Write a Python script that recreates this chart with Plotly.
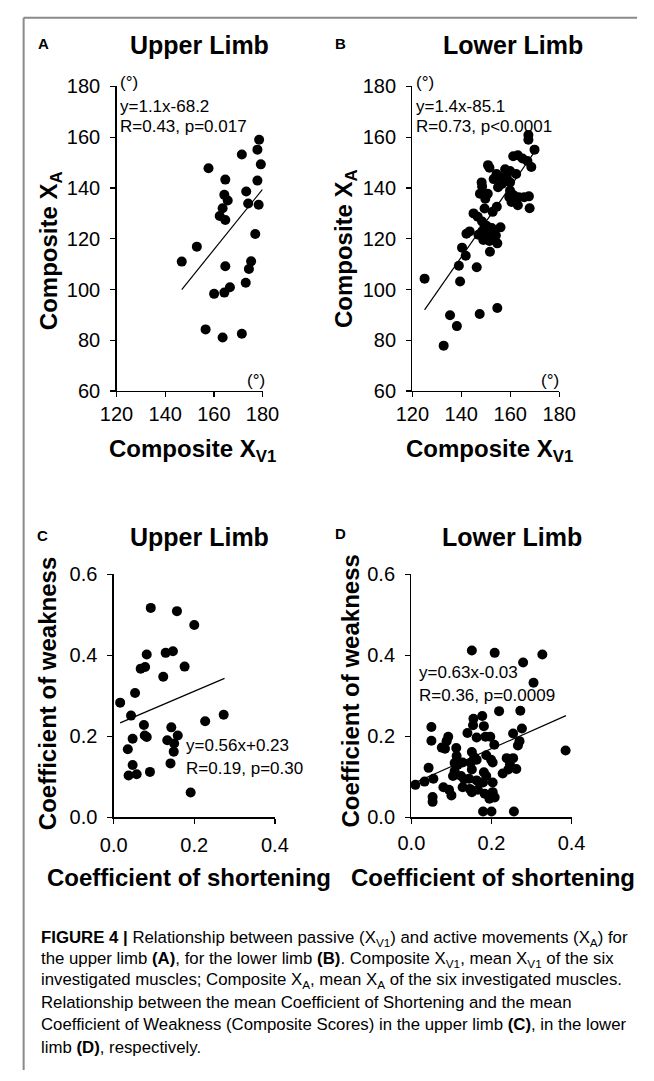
import plotly.graph_objects as go

W, H = 654, 1081

# ---------------- data ----------------
A_x = [157.8, 164.7, 171.5, 178.6, 177.9, 179.3, 177.9, 164.3, 165.7, 173.3, 174.1, 178.4, 163.6, 162.4,
       164.7, 153.0, 146.8, 177.0, 164.7, 175.3, 174.4, 173.1, 160.1, 164.3, 166.6, 156.6, 163.6, 171.5]
A_y = [147.8, 143.3, 153.2, 159.0, 155.1, 149.3, 142.9, 137.3, 135.1, 138.6, 133.9, 133.4, 132.0, 129.0,
       127.4, 116.9, 111.0, 121.9, 109.2, 111.1, 108.1, 102.7, 98.3, 98.8, 100.9, 84.3, 81.1, 82.6]
A_fit_x = [146.8, 180.0]
A_fit_y = [100.0, 139.5]

B_x = [125.0, 135.4, 138.2, 132.8, 147.5, 154.7, 139.5, 139.0, 146.3, 151.7, 140.3, 141.8, 142.1, 143.4,
       145.0, 146.7, 148.5, 150.3, 148.5, 150.3, 152.4, 153.4, 156.0, 154.1, 154.7, 149.0, 151.5, 149.5,
       152.8, 154.5, 147.6, 148.5, 148.3, 149.8, 150.8, 151.5, 150.9, 153.2, 154.4, 156.0, 155.0, 156.6,
       157.9, 159.9, 158.6, 159.9, 159.9, 159.6, 160.5, 163.1, 161.4, 163.5, 165.7, 167.6, 167.9, 161.2,
       163.1, 165.0, 167.0, 168.6, 169.9, 167.4, 167.4, 162.4, 149.5, 147.0]
B_y = [104.3, 89.9, 85.6, 77.9, 90.4, 92.7, 103.2, 109.4, 108.8, 114.9, 116.5, 113.3, 122.0, 122.9,
       130.0, 128.7, 126.8, 125.1, 122.9, 122.0, 124.2, 122.3, 124.5, 121.3, 118.2, 119.5, 119.1, 131.9,
       130.6, 132.6, 137.7, 140.6, 142.2, 135.8, 137.7, 148.0, 149.0, 143.5, 145.5, 144.2, 140.3, 141.6,
       147.4, 146.7, 143.9, 142.2, 139.0, 136.4, 134.5, 133.2, 137.1, 136.4, 136.4, 136.7, 132.0, 152.5,
       152.9, 151.6, 150.6, 148.3, 155.1, 160.9, 159.0, 145.5, 124.9, 121.6]
B_fit_x = [125.0, 169.6]
B_fit_y = [92.0, 153.8]

C_x = [0.092, 0.157, 0.200, 0.082, 0.129, 0.147, 0.067, 0.078, 0.176, 0.123, 0.053, 0.016, 0.043, 0.075,
       0.227, 0.273, 0.143, 0.047, 0.077, 0.082, 0.133, 0.150, 0.159, 0.035, 0.149, 0.047, 0.141, 0.037,
       0.057, 0.090, 0.191]
C_y = [0.517, 0.509, 0.475, 0.402, 0.406, 0.410, 0.367, 0.371, 0.372, 0.347, 0.307, 0.283, 0.251, 0.228,
       0.237, 0.253, 0.222, 0.194, 0.202, 0.198, 0.190, 0.182, 0.202, 0.168, 0.162, 0.129, 0.133, 0.103,
       0.106, 0.112, 0.061]
C_fit_x = [0.016, 0.275]
C_fit_y = [0.233, 0.343]

D_x = [0.151, 0.208, 0.327, 0.279, 0.305, 0.219, 0.272, 0.385,
       0.155, 0.177, 0.154, 0.181, 0.140, 0.163, 0.185, 0.197, 0.207, 0.276, 0.254, 0.270, 0.266,
       0.050, 0.050, 0.092, 0.088, 0.076, 0.084, 0.112, 0.113, 0.108, 0.116, 0.128, 0.151, 0.157, 0.163,
       0.187, 0.199, 0.203, 0.238, 0.254, 0.246, 0.262, 0.242, 0.228, 0.181, 0.187,
       0.043, 0.055, 0.033, 0.010, 0.108, 0.104, 0.124, 0.132, 0.144, 0.163, 0.080, 0.094, 0.100, 0.128,
       0.146, 0.151, 0.166, 0.183, 0.203, 0.208, 0.195, 0.053, 0.053, 0.110, 0.179, 0.200, 0.256, 0.151,
       0.148, 0.203, 0.179]
D_y = [0.412, 0.406, 0.402, 0.382, 0.332, 0.262, 0.263, 0.165,
       0.243, 0.250, 0.227, 0.225, 0.208, 0.197, 0.199, 0.199, 0.179, 0.219, 0.207, 0.188, 0.177,
       0.223, 0.189, 0.199, 0.188, 0.172, 0.169, 0.171, 0.151, 0.134, 0.130, 0.135, 0.161, 0.148, 0.142,
       0.153, 0.142, 0.135, 0.146, 0.146, 0.130, 0.119, 0.118, 0.108, 0.111, 0.102,
       0.122, 0.095, 0.088, 0.080, 0.114, 0.102, 0.102, 0.094, 0.095, 0.091, 0.074, 0.068, 0.054, 0.074,
       0.070, 0.062, 0.068, 0.058, 0.062, 0.049, 0.046, 0.050, 0.038, -0.003, 0.014, 0.014, 0.014, 0.118,
       0.134, 0.086, 0.086]
D_fit_x = [0.010, 0.386]
D_fit_y = [0.086, 0.251]

AB_xticks = [120, 140, 160, 180]
AB_yticks = [60, 80, 100, 120, 140, 160, 180]
CD_xticks = [0.0, 0.2, 0.4]
CD_yticks = [0.0, 0.2, 0.4, 0.6]

# ---------------- helpers ----------------
FONT = "Liberation Sans, Arial, Helvetica, sans-serif"


def px(x):
    return x / W


def py(y):
    return 1 - y / H


fig = go.Figure()

panels = [
    ("x", "y", A_x, A_y, A_fit_x, A_fit_y),
    ("x2", "y2", B_x, B_y, B_fit_x, B_fit_y),
    ("x3", "y3", C_x, C_y, C_fit_x, C_fit_y),
    ("x4", "y4", D_x, D_y, D_fit_x, D_fit_y),
]
for xa, ya, xs, ys, fx, fy in panels:
    fig.add_trace(go.Scatter(x=fx, y=fy, mode="lines", xaxis=xa, yaxis=ya,
                             line=dict(color="black", width=1.2), showlegend=False,
                             hoverinfo="skip"))
    fig.add_trace(go.Scatter(x=xs, y=ys, mode="markers", xaxis=xa, yaxis=ya,
                             marker=dict(color="black", size=10, line=dict(width=0)),
                             cliponaxis=False, showlegend=False, hoverinfo="skip"))

axis_common = dict(showline=True, linecolor="black", linewidth=1.3, ticks="outside",
                   ticklen=5, tickwidth=1.3, tickcolor="black", showgrid=False,
                   zeroline=False, tickfont=dict(family=FONT, size=20, color="black"),
                   fixedrange=True, showspikes=False)

domAx = [px(105), px(259)]
domBx = [px(417), px(572)]
domABy = [py(388), py(77)]
domCx = [px(102), px(272)]
domDx = [px(416), px(585)]
domCDy = [py(823), py(575)]

fig.update_layout(
    width=W, height=H, margin=dict(l=0, r=0, t=0, b=0),
    paper_bgcolor="white", plot_bgcolor="white", showlegend=False, hovermode=False,
    xaxis=dict(domain=domAx, range=[120, 180], tickvals=AB_xticks, anchor="y", **axis_common),
    yaxis=dict(domain=domABy, range=[60, 180], tickvals=AB_yticks, anchor="x", ticklabelstandoff=6, **axis_common),
    xaxis2=dict(domain=domBx, range=[120, 180], tickvals=AB_xticks, anchor="y2", **axis_common),
    yaxis2=dict(domain=domABy, range=[60, 180], tickvals=AB_yticks, anchor="x2", ticklabelstandoff=6, **axis_common),
    xaxis3=dict(domain=domCx, range=[0, 0.4], tickvals=CD_xticks, tickformat=".1f", anchor="y3", ticklabelstandoff=4, **axis_common),
    yaxis3=dict(domain=domCDy, range=[0, 0.6], tickvals=CD_yticks, tickformat=".1f", anchor="x3", ticklabelstandoff=6, **axis_common),
    xaxis4=dict(domain=domDx, range=[0, 0.4], tickvals=CD_xticks, tickformat=".1f", anchor="y4", ticklabelstandoff=2, **axis_common),
    yaxis4=dict(domain=domCDy, range=[0, 0.6], tickvals=CD_yticks, tickformat=".1f", anchor="x4", ticklabelstandoff=6, **axis_common),
)

anns = []


def ann(text, x, y, size, bold=False, xanchor="center", yanchor="middle", angle=0, family=FONT):
    anns.append(dict(text=text, x=px(x), y=py(y), xref="paper", yref="paper",
                     xanchor=xanchor, yanchor=yanchor, showarrow=False, textangle=angle,
                     font=dict(family=family, size=size, color="black",
                               weight="bold" if bold else "normal"),
                     align="left"))


# panel letters
ann("A", 28, 33, 15, bold=True)
ann("B", 341, 33, 15, bold=True)
ann("C", 27, 535, 15, bold=True)
ann("D", 341, 533, 15, bold=True)
# titles
ann("Upper Limb", 193, 35, 25, bold=True)
ann("Lower Limb", 523, 35, 25, bold=True)
ann("Upper Limb", 192, 537, 25, bold=True)
ann("Lower Limb", 522, 537, 25, bold=True)
# axis titles
ann("Composite X<sub>A</sub>", 35, 245, 24, bold=True, angle=-90)
ann("Composite X<sub>A</sub>", 346, 243, 24, bold=True, angle=-90)
ann("Composite X<sub>V1</sub>", 185, 449, 24, bold=True)
ann("Composite X<sub>V1</sub>", 498, 449, 24, bold=True)
ann("Coefficient of weakness", 32, 697, 24, bold=True, angle=-90)
ann("Coefficient of weakness", 352, 694, 24, bold=True, angle=-90)
ann("Coefficient of shortening", 181, 884, 24, bold=True)
ann("Coefficient of shortening", 502, 884, 24, bold=True)
# stats
ann("(°)", 107, 73, 17, xanchor="left")
ann("y=1.1x-68.2", 107, 97, 17, xanchor="left")
ann("R=0.43, p=0.017", 107, 118, 17, xanchor="left")
ann("(°)", 264, 377, 17, xanchor="right")
ann("(°)", 419, 73, 17, xanchor="left")
ann("y=1.4x-85.1", 419, 97, 17, xanchor="left")
ann("R=0.73, p<0.0001", 419, 118, 17, xanchor="left")
ann("(°)", 574, 377, 17, xanchor="right")
ann("y=0.56x+0.23", 176, 750, 17, xanchor="left")
ann("R=0.19, p=0.30", 176, 773, 17, xanchor="left")
ann("y=0.63x-0.03", 422, 675, 17, xanchor="left")
ann("R=0.36, p=0.0009", 422, 699, 17, xanchor="left")

# caption
CAP_FONT = "Liberation Sans, Arial, sans-serif"
CAP_SIZE = 16.8


def B(t):
    return '<span style="font-weight:bold;font-size:16.8px">' + t + '</span>'


cap_lines = [
    B("FIGURE 4 |") + " Relationship between passive (X<sub>V1</sub>) and active movements (X<sub>A</sub>) for",
    "the upper limb " + B("(A)") + ", for the lower limb " + B("(B)") + ". Composite X<sub>V1</sub>, mean X<sub>V1</sub> of the six",
    "investigated muscles; Composite X<sub>A</sub>, mean X<sub>A</sub> of the six investigated muscles.",
    "Relationship between the mean Coefficient of Shortening and the mean",
    "Coefficient of Weakness (Composite Scores) in the upper limb " + B("(C)") + ", in the lower",
    "limb " + B("(D)") + ", respectively.",
]
cap_y = [947, 968, 990, 1012, 1035, 1058]
for t, yy in zip(cap_lines, cap_y):
    ann(t, 23, yy, CAP_SIZE, xanchor="left", family=CAP_FONT)

fig.update_layout(annotations=anns)

# frame lines (top & left)
fig.update_layout(shapes=[
    dict(type="line", xref="paper", yref="paper", x0=px(7), x1=px(654), y0=py(7), y1=py(7),
         line=dict(color="#8a8a8a", width=2)),
    dict(type="line", xref="paper", yref="paper", x0=px(7), x1=px(7), y0=py(7), y1=0,
         line=dict(color="#8a8a8a", width=2)),
])

fig.write_html(
    "out.html", config={"displayModeBar": False, "staticPlot": True},
    post_script=("document.documentElement.style.overflow='hidden';"
                 "document.body.style.overflow='hidden';"
                 "document.body.style.margin='0';document.body.style.padding='0';"))
